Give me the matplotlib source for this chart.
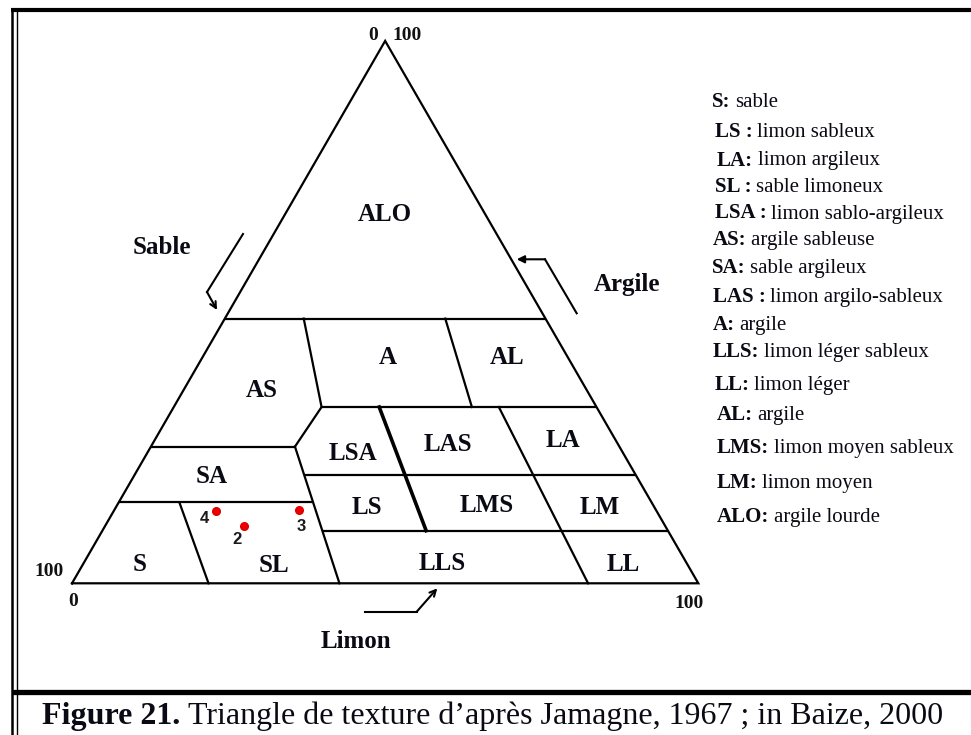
import numpy as np
import matplotlib
matplotlib.use("Agg")
import matplotlib.pyplot as plt
from matplotlib.lines import Line2D

plt.rcParams['font.family'] = ['Liberation Serif', 'DejaVu Serif']

# ---------------- data ----------------
# texture classes and label positions (silt %, clay %)
class_names = ["ALO", "A", "AL", "AS", "LSA", "LAS", "LA", "SA",
               "LS", "LMS", "LM", "S", "SL", "LLS", "LL"]
class_silt = [15.7, 29.4, 48.4, 12.3, 32.7, 47.0, 65.0, 12.3,
              39.9, 58.9, 77.1, 8.9, 30.4, 57.0, 86.0]
class_clay = [68.5, 42.1, 42.1, 36.0, 24.4, 26.0, 26.8, 20.1,
              14.4, 14.8, 14.4, 3.9, 3.7, 4.1, 3.9]

# clay levels (%) of the horizontal class boundaries
clay_levels = [48.8, 32.5, 25.2, 20.0, 14.9, 9.7]

# oblique boundaries: (silt %, clay %) at upper and lower end
as_right = [(12.6, 48.8), (23.6, 32.5)]
lsa_left = [(23.6, 32.5), (23.0, 25.2)]
sl_right = [(23.0, 25.2), (42.7, 0.0)]
a_al = [(35.2, 48.8), (47.6, 32.5)]
las_split = [(32.8, 32.5), (51.7, 9.7)]   # thick line
la_split = [(51.9, 32.5), (82.4, 0.0)]
s_sl = [(9.7, 14.9), (21.8, 0.0)]

# samples
sample_ids = ["4", "2", "3"]
sample_silt = [16.3, 22.2, 29.5]
sample_clay = [13.3, 10.6, 13.5]

# legend
legend_abbr = ["S:", "LS :", "LA:", "SL :", "LSA :", "AS:", "SA:", "LAS :",
               "A:", "LLS:", "LL:", "AL:", "LMS:", "LM:", "ALO:"]
legend_desc = ["sable", "limon sableux", "limon argileux", "sable limoneux",
               "limon sablo-argileux", "argile sableuse", "sable argileux",
               "limon argilo-sableux", "argile", "limon léger sableux",
               "limon léger", "argile", "limon moyen sableux",
               "limon moyen", "argile lourde"]

caption_bold = "Figure 21."
caption_rest = "Triangle de texture d\u2019après Jamagne, 1967 ; in Baize, 2000"

# ---------------- layout ----------------
WPX, HPX = 971, 735
fig = plt.figure(figsize=(WPX / 100, HPX / 100), dpi=100)
ax = fig.add_axes([0, 0, 1, 1])
PX = 6.263              # pixels per percent
X0, Y0 = 72.0, 583.3    # pixel position of the bottom-left corner
ax.set_xlim(-X0 / PX, (WPX - X0) / PX)
ax.set_ylim(-(HPX - Y0) / PX, Y0 / PX)
ax.axis('off')

S3 = np.sqrt(3) / 2


def tern(silt, clay):
    silt = np.asarray(silt, float)
    clay = np.asarray(clay, float)
    return silt + clay / 2, clay * S3


def F(px, py):
    return px / WPX, 1 - py / HPX


def silt_at(seg, c):
    (s1, c1), (s2, c2) = seg
    return s1 + (s2 - s1) * (c - c1) / (c2 - c1)


LW = 1.6
# outline
x, y = tern([0, 100, 0, 0], [0, 0, 100, 0])
ax.plot(x, y, color='k', lw=LW, solid_joinstyle='miter')

# horizontal boundaries
h_segments = [
    (clay_levels[0], 0.0, 100 - clay_levels[0]),
    (clay_levels[1], as_right[1][0], 100 - clay_levels[1]),
    (clay_levels[2], 0.0, lsa_left[1][0]),
    (clay_levels[3], silt_at(sl_right, clay_levels[3]), 100 - clay_levels[3]),
    (clay_levels[4], 0.0, silt_at(sl_right, clay_levels[4])),
    (clay_levels[5], silt_at(sl_right, clay_levels[5]), 100 - clay_levels[5]),
]
for c, s0, s1 in h_segments:
    x, y = tern([s0, s1], [c, c])
    ax.plot(x, y, color='k', lw=LW, solid_capstyle='butt')

for seg in [as_right, lsa_left, sl_right, a_al, la_split, s_sl]:
    x, y = tern([p[0] for p in seg], [p[1] for p in seg])
    ax.plot(x, y, color='k', lw=LW)
x, y = tern([p[0] for p in las_split], [p[1] for p in las_split])
ax.plot(x, y, color='k', lw=2.6)

# class labels
for name, s, c in zip(class_names, class_silt, class_clay):
    xx, yy = tern(s, c)
    ax.text(xx, yy, name, ha='center', va='center_baseline',
            fontsize=18, fontweight='bold', color='#0a0a14')

# samples
xs, ys = tern(sample_silt, sample_clay)
ax.plot(xs, ys, 'o', color='#ee0000', ms=5.5, mec='#dd0000', zorder=5)
offsets = [(-8.5, -5.5), (-5.0, -9.6), (1.7, -12.0)]
for sid, xx, yy, off in zip(sample_ids, xs, ys, offsets):
    ax.annotate(sid, (xx, yy), xytext=off, textcoords='offset points',
                ha='center', va='center', fontsize=12, color='#1a1a1a',
                fontweight='bold', family=['Liberation Sans', 'DejaVu Sans'])

# axis numbers
for txt, px, py in [("0", 373, 34), ("100", 407, 34), ("100", 49, 570),
                    ("0", 73, 599), ("100", 689, 601)]:
    fig.text(*F(px, py), txt, ha='center', va='center_baseline',
             fontsize=14, fontweight='bold', color='#111111')

# axis names
for txt, px, py in [("Sable", 162, 245), ("Argile", 627, 282), ("Limon", 356, 639)]:
    fig.text(*F(px, py), txt, ha='center', va='center_baseline',
             fontsize=18, fontweight='bold', color='#0a0a14')

# arrows (pixel coordinates of the bent lines, last point = tip)
arrows = [
    ([(243, 234), (207, 292), (217, 310)], '->'),
    ([(576.7, 313.3), (545, 259.3), (516.7, 259.3)], '-|>'),
    ([(365, 611.7), (416.7, 611.7), (437.3, 588.3)], '->'),
]
for pts, style in arrows:
    fp = [F(*p) for p in pts]
    ax.plot([p[0] for p in fp[:-1]], [p[1] for p in fp[:-1]], color='k',
            lw=1.5, transform=fig.transFigure, clip_on=False)
    ax.annotate("", xy=fp[-1], xytext=fp[-2], xycoords='figure fraction',
                textcoords='figure fraction',
                arrowprops=dict(arrowstyle=style, lw=1.5, color='k',
                                mutation_scale=11, shrinkA=0, shrinkB=0))

# legend
leg_y = [99.4, 129.9, 158, 185, 211, 238, 265.8, 294.4, 322.5, 349.3,
         383, 412.6, 445.4, 480.5, 514.3]
leg_x = [712, 715, 717, 715, 715, 713, 712, 713, 713, 713, 715, 717, 717, 717, 717]
for a, d, px, py in zip(legend_abbr, legend_desc, leg_x, leg_y):
    t = fig.text(*F(px, py), a, ha='left', va='center_baseline',
                 fontsize=15, fontweight='bold', color='#0a0a14')
    ax.annotate(d, xy=(1, 0), xycoords=t, xytext=(3.2, 0),
                textcoords='offset points', ha='left', va='bottom',
                fontsize=15, color='#0a0a14')

# frame
def fline(xp, yp, lw):
    x_, y_ = zip(*[F(a, b) for a, b in zip(xp, yp)])
    fig.add_artist(Line2D(x_, y_, lw=lw, color='k', solid_capstyle='butt'))

fline([12.0, 12.0], [8, 735], 1.8)
fline([17.0, 17.0], [8, 735], 1.0)
fline([10.8, 971], [9.5, 9.5], 3.0)
fline([12.0, 971], [691.5, 691.5], 3.8)

# caption
t = fig.text(*F(42, 713), caption_bold, ha='left', va='center_baseline',
             fontsize=23, fontweight='bold', color='#0a0a14')
ax.annotate(caption_rest, xy=(1, 0), xycoords=t, xytext=(5.5, 0),
            textcoords='offset points', ha='left', va='bottom',
            fontsize=23, color='#0a0a14')

fig.savefig("out.png", dpi=100)
